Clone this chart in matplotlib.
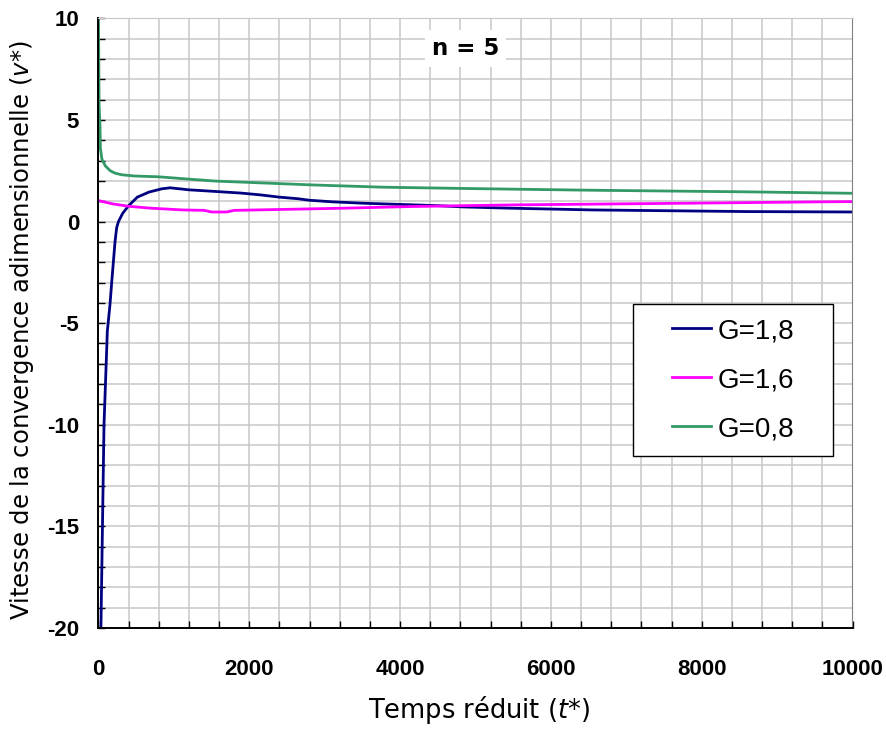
import numpy as np
import matplotlib
matplotlib.use("Agg")
import matplotlib.pyplot as plt
from matplotlib.ticker import MultipleLocator
from matplotlib.patches import Rectangle

plt.rcParams['font.family'] = ['Liberation Sans', 'DejaVu Sans']
plt.rcParams['axes.unicode_minus'] = False
plt.rcParams['mathtext.fontset'] = 'dejavusans'

# G = 1,8
t_g18 = [28, 55, 73, 99, 117, 152, 175, 197, 219, 241, 265, 320, 400, 515, 670, 840,
         950, 1200, 1550, 1890, 2150, 2400, 2650, 2790, 3100, 3515, 4020, 4500, 4830,
         5420, 6560, 8600, 10000]
v_g18 = [-21, -14.4, -10.0, -7.3, -5.4, -4.1, -3.0, -2.0, -1.0, -0.3, 0.0, 0.4, 0.78, 1.2,
         1.45, 1.61, 1.66, 1.56, 1.48, 1.40, 1.31, 1.2, 1.12, 1.05, 0.97, 0.90, 0.84, 0.78,
         0.72, 0.66, 0.57, 0.49, 0.47]

# G = 1,6
t_g16 = [0, 185, 400, 680, 1120, 1400, 1500, 1700, 1800, 2085, 2500, 3300, 4170, 5520,
         7780, 9600, 10000]
v_g16 = [1.03, 0.87, 0.75, 0.66, 0.57, 0.55, 0.47, 0.47, 0.55, 0.57, 0.6, 0.66, 0.74,
         0.82, 0.90, 0.97, 0.98]

# G = 0,8
t_g08 = [0, 8, 20, 25, 45, 90, 155, 220, 310, 480, 800, 1150, 1555, 2100, 2840, 3770,
         4970, 6540, 8610, 10000]
v_g08 = [10, 5.7, 4.7, 3.6, 3.07, 2.74, 2.5, 2.38, 2.3, 2.24, 2.2, 2.1, 1.99, 1.91, 1.8,
         1.69, 1.62, 1.54, 1.46, 1.39]

W, H = 887, 729
fig = plt.figure(figsize=(W / 100, H / 100), dpi=100)
ax = fig.add_axes([98.5 / W, 1 - 628 / H, (852.5 - 98.5) / W, (628 - 18.3) / H])

ax.plot(t_g18, v_g18, color='#000080', lw=2, label='G=1,8')
ax.plot(t_g16, v_g16, color='#FF00FF', lw=2, label='G=1,6')
ax.plot(t_g08, v_g08, color='#339966', lw=2, label='G=0,8')

ax.set_xlim(0, 10000)
ax.set_ylim(-20, 10)
ax.xaxis.set_major_locator(MultipleLocator(2000))
ax.xaxis.set_minor_locator(MultipleLocator(400))
ax.yaxis.set_major_locator(MultipleLocator(5))
ax.yaxis.set_minor_locator(MultipleLocator(1))
ax.grid(which='both', color='#C8C8C8', lw=1.1)
ax.set_axisbelow(True)
ax.tick_params(which='both', direction='in', length=5, width=1, color='black')
ax.tick_params(axis='x', pad=22, labelsize=16)
ax.tick_params(axis='y', pad=14, labelsize=16)
plt.setp(ax.get_xticklabels() + ax.get_yticklabels(), fontweight='bold')

for s in ['left', 'bottom']:
    ax.spines[s].set_color('black')
    ax.spines[s].set_linewidth(1.4)
ax.spines['top'].set_color('#C8C8C8')
ax.spines['right'].set_color('#808080')

ax.text(0.487, 0.951, 'n = 5', transform=ax.transAxes, ha='center', va='center',
        fontsize=16.5, fontweight='bold', family='DejaVu Sans',
        bbox=dict(facecolor='white', edgecolor='none', pad=5))

ax.add_patch(Rectangle((0.709, 0.282), 0.265, 0.249, transform=ax.transAxes,
                       facecolor='white', edgecolor='black', lw=1, zorder=4.9))
ax.legend(loc='center', bbox_to_anchor=(0.8415, 0.4065), frameon=False,
          fontsize=20, handlelength=1.4, handletextpad=0.25, labelspacing=0.83)

fig.text(479 / W, 1 - 710 / H, 'Temps réduit ($\\mathit{t}$*)', ha='center', va='center',
         fontsize=18.5, family='DejaVu Sans')
fig.text(22 / W, 1 - 330 / H, 'Vitesse de la convergence adimensionnelle ($\\mathit{v}$*)',
         ha='center', va='center', rotation=90, fontsize=17.5, family='DejaVu Sans')

fig.savefig('out.png', dpi=100)
